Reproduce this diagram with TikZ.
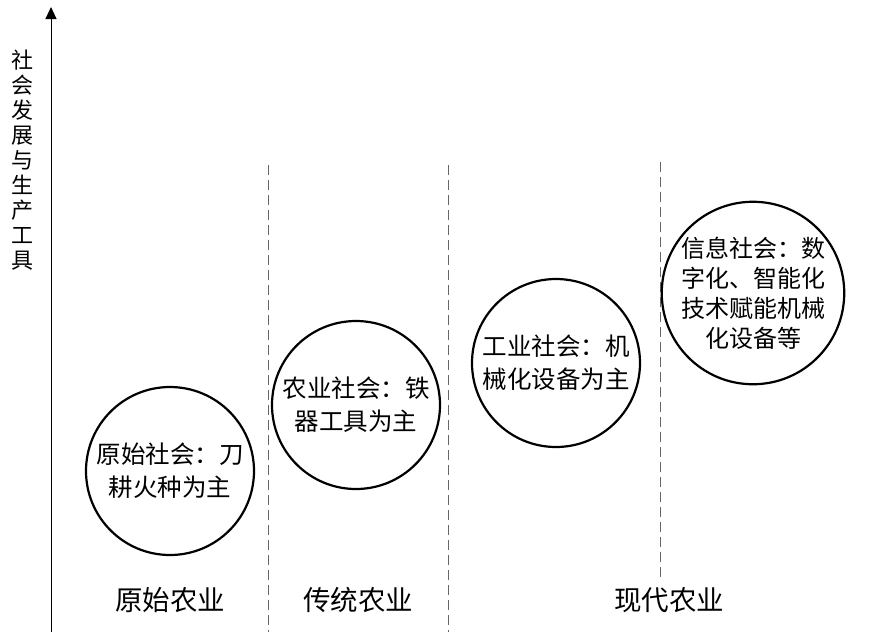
\documentclass[tikz,border=0pt]{standalone}
\usepackage{fontspec}
\newfontfamily\cjk{Noto Sans CJK SC}
\usetikzlibrary{arrows.meta}
\begin{document}
\begin{tikzpicture}[x=1pt,y=-1pt,
  stage/.style={draw=black,line width=2.2pt,circle,minimum size=168pt,inner sep=0pt,align=center,
     font=\cjk\fontsize{24.5}{33}\selectfont},
  era/.style={font=\cjk\fontsize{27.5}{30}\selectfont,inner sep=0pt},
  divider/.style={draw=black!60,line width=0.8pt,dash pattern=on 10pt off 5pt},
  axisline/.style={draw=black,line width=1pt,-{Triangle[length=12pt,width=11pt]}}]
\useasboundingbox (0,0) rectangle (876,633);
% axis
\coordinate (ax0) at (51,632);
\coordinate (ax1) at (51,7);
\draw[axisline] (ax0) -- (ax1);
\node[font=\cjk\fontsize{22}{25}\selectfont,align=center,inner sep=0pt] (ylab) at (22,160)
  {社\\会\\发\\展\\与\\生\\产\\工\\具};
% dividers
\coordinate (d1a) at (268,165); \coordinate (d1b) at (268,632);
\coordinate (d2a) at (448,165); \coordinate (d2b) at (448,632);
\coordinate (d3a) at (660,162); \coordinate (d3b) at (660,580);
\draw[divider] (d1a) -- (d1b);
\draw[divider] (d2a) -- (d2b);
\draw[divider] (d3a) -- (d3b);
% circles
\node[stage] (c1) at (170,471) {原始社会：刀\\耕火种为主};
\node[stage] (c2) at (356,405) {农业社会：铁\\器工具为主};
\node[stage] (c3) at (556,363) {工业社会：机\\械化设备为主};
\node[stage,font=\cjk\fontsize{24}{30}\selectfont] (c4) at (753,293) {信息社会：数\\字化、智能化\\技术赋能机械\\化设备等};
% era labels
\node[era] (e1) at (170,600) {原始农业};
\node[era] (e2) at (358,600) {传统农业};
\node[era] (e3) at (669,600) {现代农业};
\end{tikzpicture}
\end{document}
